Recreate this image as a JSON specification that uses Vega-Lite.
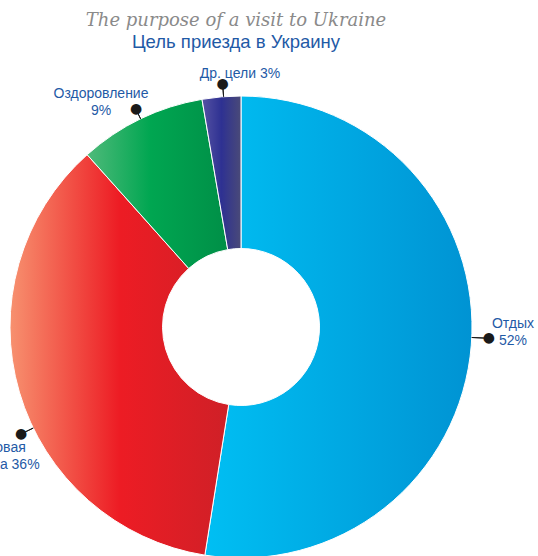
{
  "$schema": "https://vega.github.io/schema/vega-lite/v6.json",
  "width": 482,
  "height": 534,
  "autosize": "none",
  "padding": {"top": 60, "left": 0, "right": 56, "bottom": 0},
  "background": "white",
  "title": {
    "text": "The purpose of a visit to Ukraine",
    "subtitle": "Цель приезда в Украину",
    "anchor": "middle",
    "frame": "group",
    "dx": -5,
    "offset": 9,
    "font": "DejaVu Serif",
    "fontStyle": "italic",
    "fontWeight": "normal",
    "fontSize": 18,
    "color": "#8a8a8a",
    "subtitleFont": "Liberation Sans",
    "subtitleFontSize": 18.5,
    "subtitleColor": "#1f5aa6",
    "subtitlePadding": 3
  },
  "config": {"view": {"stroke": null}},
  "data": {
    "values": [
      {"cat": "Отдых", "label": "Отдых\n52%", "value": 52.5, "order": 1},
      {"cat": "Деловая поездка", "label": "Деловая\nпоездка 36%", "value": 35.9, "order": 2},
      {"cat": "Оздоровление", "label": "Оздоровление\n9%", "value": 8.9, "order": 3},
      {"cat": "Др. цели", "label": "Др. цели 3%", "value": 2.7, "order": 4}
    ]
  },
  "transform": [
    {"stack": "value", "groupby": [], "sort": [{"field": "order", "order": "ascending"}], "as": ["v0", "v1"]}
  ],
  "layer": [
    {
      "transform": [{"filter": "datum.cat === 'Отдых'"}],
      "mark": {"type": "arc", "radius": 231, "radius2": 78.5, "stroke": "white", "strokeWidth": 1,
        "fill": {"gradient": "linear", "x1": 0, "y1": 0, "x2": 1, "y2": 0,
          "stops": [{"offset": 0, "color": "#00bff3"}, {"offset": 1, "color": "#0093d3"}]}},
      "encoding": {
        "theta": {"field": "v0", "type": "quantitative", "scale": {"domain": [0, 100]}},
        "theta2": {"field": "v1"}
      }
    },
    {
      "transform": [{"filter": "datum.cat === 'Деловая поездка'"}],
      "mark": {"type": "arc", "radius": 231, "radius2": 78.5, "stroke": "white", "strokeWidth": 1,
        "fill": {"gradient": "linear", "x1": 0, "y1": 0, "x2": 1, "y2": 0,
          "stops": [{"offset": 0, "color": "#f7916f"}, {"offset": 0.5, "color": "#ed1c24"}, {"offset": 1, "color": "#cf2027"}]}},
      "encoding": {
        "theta": {"field": "v0", "type": "quantitative", "scale": {"domain": [0, 100]}},
        "theta2": {"field": "v1"}
      }
    },
    {
      "transform": [{"filter": "datum.cat === 'Оздоровление'"}],
      "mark": {"type": "arc", "radius": 231, "radius2": 78.5, "stroke": "white", "strokeWidth": 1,
        "fill": {"gradient": "linear", "x1": 0, "y1": 0, "x2": 1, "y2": 0,
          "stops": [{"offset": 0, "color": "#4fba7a"}, {"offset": 0.45, "color": "#00a651"}, {"offset": 1, "color": "#008f47"}]}},
      "encoding": {
        "theta": {"field": "v0", "type": "quantitative", "scale": {"domain": [0, 100]}},
        "theta2": {"field": "v1"}
      }
    },
    {
      "transform": [{"filter": "datum.cat === 'Др. цели'"}],
      "mark": {"type": "arc", "radius": 231, "radius2": 78.5, "stroke": "white", "strokeWidth": 1,
        "fill": {"gradient": "linear", "x1": 0, "y1": 0, "x2": 1, "y2": 0,
          "stops": [{"offset": 0, "color": "#5552a3"}, {"offset": 0.5, "color": "#2e3192"}, {"offset": 1, "color": "#4a4a78"}]}},
      "encoding": {
        "theta": {"field": "v0", "type": "quantitative", "scale": {"domain": [0, 100]}},
        "theta2": {"field": "v1"}
      }
    },
    {
      "transform": [{"filter": "datum.cat === 'Отдых'"}],
      "mark": {"type": "arc", "radius": 248, "radius2": 231, "thetaOffset": 1.6162, "theta2Offset": 1.6162, "stroke": "#1a1a1a", "strokeWidth": 1, "fill": null},
      "encoding": {"theta": {"field": "v0", "type": "quantitative", "scale": {"domain": [0, 100]}}, "theta2": {"field": "v0"}}
    },
    {
      "transform": [{"filter": "datum.cat === 'Деловая поездка'"}],
      "mark": {"type": "arc", "radius": 244.6, "radius2": 231, "thetaOffset": 0.961, "theta2Offset": 0.961, "stroke": "#1a1a1a", "strokeWidth": 1, "fill": null},
      "encoding": {"theta": {"field": "v0", "type": "quantitative", "scale": {"domain": [0, 100]}}, "theta2": {"field": "v0"}}
    },
    {
      "transform": [{"filter": "datum.cat === 'Оздоровление'"}],
      "mark": {"type": "arc", "radius": 241.7, "radius2": 231, "thetaOffset": 0.2794, "theta2Offset": 0.2794, "stroke": "#1a1a1a", "strokeWidth": 1, "fill": null},
      "encoding": {"theta": {"field": "v0", "type": "quantitative", "scale": {"domain": [0, 100]}}, "theta2": {"field": "v0"}}
    },
    {
      "transform": [{"filter": "datum.cat === 'Др. цели'"}],
      "mark": {"type": "arc", "radius": 243.2, "radius2": 231, "thetaOffset": 0.0942, "theta2Offset": 0.0942, "stroke": "#1a1a1a", "strokeWidth": 1, "fill": null},
      "encoding": {"theta": {"field": "v0", "type": "quantitative", "scale": {"domain": [0, 100]}}, "theta2": {"field": "v0"}}
    },
    {
      "transform": [{"filter": "datum.cat === 'Отдых'"}],
      "mark": {"type": "text", "text": "●", "font": "DejaVu Sans", "fontSize": 14, "align": "center", "baseline": "middle", "radius": 248, "thetaOffset": 1.6162, "color": "#1a1a1a"},
      "encoding": {"theta": {"field": "v0", "type": "quantitative", "scale": {"domain": [0, 100]}}}
    },
    {
      "transform": [{"filter": "datum.cat === 'Деловая поездка'"}],
      "mark": {"type": "text", "text": "●", "font": "DejaVu Sans", "fontSize": 14, "align": "center", "baseline": "middle", "radius": 244.6, "thetaOffset": 0.961, "color": "#1a1a1a"},
      "encoding": {"theta": {"field": "v0", "type": "quantitative", "scale": {"domain": [0, 100]}}}
    },
    {
      "transform": [{"filter": "datum.cat === 'Оздоровление'"}],
      "mark": {"type": "text", "text": "●", "font": "DejaVu Sans", "fontSize": 14, "align": "center", "baseline": "middle", "radius": 241.7, "thetaOffset": 0.2794, "color": "#1a1a1a"},
      "encoding": {"theta": {"field": "v0", "type": "quantitative", "scale": {"domain": [0, 100]}}}
    },
    {
      "transform": [{"filter": "datum.cat === 'Др. цели'"}],
      "mark": {"type": "text", "text": "●", "font": "DejaVu Sans", "fontSize": 14, "align": "center", "baseline": "middle", "radius": 243.2, "thetaOffset": 0.0942, "color": "#1a1a1a"},
      "encoding": {"theta": {"field": "v0", "type": "quantitative", "scale": {"domain": [0, 100]}}}
    },
    {
      "transform": [{"filter": "datum.cat === 'Отдых'"}],
      "mark": {"type": "text", "font": "Liberation Sans", "fontSize": 14, "lineHeight": 17, "lineBreak": "\n", "align": "center", "baseline": "alphabetic", "radius": 272, "thetaOffset": 1.5743, "color": "#1f5aa6"},
      "encoding": {"theta": {"field": "v0", "type": "quantitative", "scale": {"domain": [0, 100]}}, "text": {"field": "label"}}
    },
    {
      "transform": [{"filter": "datum.cat === 'Деловая поездка'"}],
      "mark": {"type": "text", "font": "Liberation Sans", "fontSize": 14, "lineHeight": 17, "lineBreak": "\n", "align": "center", "baseline": "alphabetic", "radius": 273.3, "thetaOffset": 0.9386, "color": "#1f5aa6"},
      "encoding": {"theta": {"field": "v0", "type": "quantitative", "scale": {"domain": [0, 100]}}, "text": {"field": "label"}}
    },
    {
      "transform": [{"filter": "datum.cat === 'Оздоровление'"}],
      "mark": {"type": "text", "font": "Liberation Sans", "fontSize": 14, "lineHeight": 17, "lineBreak": "\n", "align": "center", "baseline": "alphabetic", "radius": 268.4, "thetaOffset": 0.1801, "color": "#1f5aa6"},
      "encoding": {"theta": {"field": "v0", "type": "quantitative", "scale": {"domain": [0, 100]}}, "text": {"field": "label"}}
    },
    {
      "transform": [{"filter": "datum.cat === 'Др. цели'"}],
      "mark": {"type": "text", "font": "Liberation Sans", "fontSize": 14, "lineHeight": 17, "lineBreak": "\n", "align": "center", "baseline": "alphabetic", "radius": 249, "thetaOffset": 0.1656, "color": "#1f5aa6"},
      "encoding": {"theta": {"field": "v0", "type": "quantitative", "scale": {"domain": [0, 100]}}, "text": {"field": "label"}}
    }
  ]
}
